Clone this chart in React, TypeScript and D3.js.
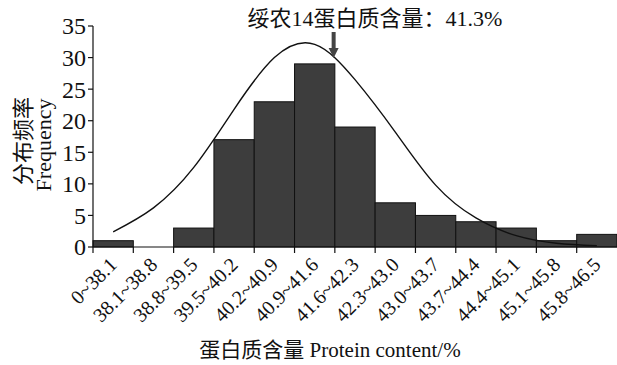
import React from "react";
import * as d3 from "d3";

const categories = [
  "0~38.1", "38.1~38.8", "38.8~39.5", "39.5~40.2", "40.2~40.9", "40.9~41.6",
  "41.6~42.3", "42.3~43.0", "43.0~43.7", "43.7~44.4", "44.4~45.1", "45.1~45.8", "45.8~46.5",
];
const frequency = [1, 0, 3, 17, 23, 29, 19, 7, 5, 4, 3, 1, 2];
// fitted normal curve, read at each band centre
const normalCurve = [2.4, 6.2, 12.6, 21.8, 30.0, 32.1, 26.5, 18.2, 9.8, 4.6, 1.8, 0.6, 0.2];
const yTicks = [0, 5, 10, 15, 20, 25, 30, 35];
const highlightLabel = "绥农14蛋白质含量：41.3%";
const highlightBand = "40.9~41.6";

const W = 617;
const H = 365;
const FONT = "'Liberation Serif', 'Noto Sans CJK SC', serif";

export default function App() {
  const x = d3.scaleBand().domain(categories).range([93, 617]).padding(0);
  const y = d3.scaleLinear().domain([0, 35]).range([247, 26]);
  const bw = x.bandwidth();

  const line = d3
    .line<number>()
    .x((_, i) => x(categories[i])! + bw / 2)
    .y((d) => y(d))
    .curve(d3.curveNatural);

  const arrowX = x(highlightBand)! + bw * 0.97;

  return (
    <svg
      width={W}
      height={H}
      style={{ position: "absolute", left: 0, top: 0, background: "#fff" }}
      fontFamily={FONT}
    >
      {/* bars */}
      {frequency.map((v, i) =>
        v > 0 ? (
          <rect
            key={i}
            x={x(categories[i])}
            y={y(v)}
            width={bw}
            height={y(0) - y(v)}
            fill="#3d3d3d"
            stroke="#111"
            strokeWidth={1}
          />
        ) : null
      )}

      {/* normal curve */}
      <path d={line(normalCurve) ?? ""} fill="none" stroke="#111" strokeWidth={1.4} />

      {/* y axis */}
      <line x1={93} x2={93} y1={y(35)} y2={y(0)} stroke="#111" strokeWidth={1.2} />
      {yTicks.map((t) => (
        <g key={t}>
          <line x1={88} x2={93} y1={y(t)} y2={y(t)} stroke="#111" strokeWidth={1.2} />
          <text x={86} y={y(t)} dy="0.35em" textAnchor="end" fontSize={24} fill="#111">
            {t}
          </text>
        </g>
      ))}

      {/* x axis */}
      <line x1={93} x2={617} y1={y(0)} y2={y(0)} stroke="#111" strokeWidth={1.2} />
      {categories.map((c) => (
        <line
          key={"t" + c}
          x1={x(c)}
          x2={x(c)}
          y1={y(0)}
          y2={y(0) + 6}
          stroke="#111"
          strokeWidth={1.2}
        />
      ))}
      {categories.map((c) => {
        const cx = x(c)! + bw / 2 + 5;
        const cy = y(0) + 19;
        return (
          <text
            key={"l" + c}
            x={cx}
            y={cy}
            textAnchor="end"
            fontSize={20}
            fill="#111"
            transform={`rotate(-45 ${cx} ${cy})`}
          >
            {c}
          </text>
        );
      })}

      {/* axis titles */}
      <text x={330} y={357} textAnchor="middle" fontSize={21} fill="#111">
        蛋白质含量 Protein content/%
      </text>
      <text
        transform="translate(31,141) rotate(-90)"
        textAnchor="middle"
        fontSize={22}
        fill="#111"
      >
        分布频率
      </text>
      <text
        transform="translate(51,145) rotate(-90)"
        textAnchor="middle"
        fontSize={22}
        fill="#111"
      >
        Frequency
      </text>

      {/* annotation */}
      <text x={375} y={26} textAnchor="middle" fontSize={22} fill="#111">
        {highlightLabel}
      </text>
      <line x1={arrowX} x2={arrowX} y1={32} y2={50} stroke="#444" strokeWidth={4} />
      <path
        d={`M${arrowX - 5},48 L${arrowX + 5},48 L${arrowX},58 Z`}
        fill="#444"
      />
    </svg>
  );
}
